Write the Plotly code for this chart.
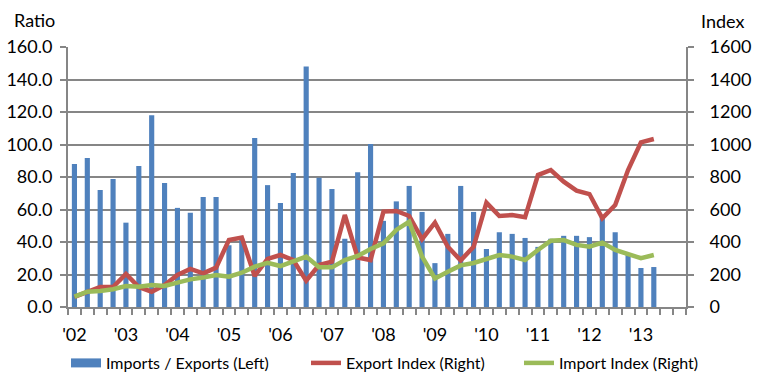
import plotly.graph_objects as go

# ---------------- data ----------------
categories = [
    "2002Q1", "2002Q2", "2002Q3", "2002Q4", "2003Q1", "2003Q2", "2003Q3", "2003Q4",
    "2004Q1", "2004Q2", "2004Q3", "2004Q4", "2005Q1", "2005Q2", "2005Q3", "2005Q4",
    "2006Q1", "2006Q2", "2006Q3", "2006Q4", "2007Q1", "2007Q2", "2007Q3", "2007Q4",
    "2008Q1", "2008Q2", "2008Q3", "2008Q4", "2009Q1", "2009Q2", "2009Q3", "2009Q4",
    "2010Q1", "2010Q2", "2010Q3", "2010Q4", "2011Q1", "2011Q2", "2011Q3", "2011Q4",
    "2012Q1", "2012Q2", "2012Q3", "2012Q4", "2013Q1", "2013Q2", "2013Q3", "2013Q4",
]
year_labels = ["'02", "'03", "'04", "'05", "'06", "'07", "'08", "'09", "'10", "'11", "'12", "'13"]

imports_exports_ratio = [
    88, 91.7, 72, 78.8, 51.9, 86.8, 118, 76.3, 61, 58, 67.7, 67.7,
    38, 42, 104, 75, 64, 82.5, 148, 79.6, 72.6, 42, 83, 100.3,
    53, 65, 74.5, 58.5, 27, 45, 74.5, 58.5, 35.7, 46, 45, 42.5,
    37, 42, 43.8, 43.8, 43, 56.6, 46, 33, 24, 24.6,
]
export_index = [
    62, 94, 123, 123, 203, 123, 94, 135, 197, 234, 207, 242,
    412, 427, 191, 296, 320, 289, 162, 258, 279, 566, 305, 289,
    587, 591, 560, 418, 519, 371, 287, 370, 642, 560, 566, 552,
    812, 843, 771, 716, 695, 546, 628, 843, 1013, 1034,
]
import_index = [
    64, 94, 98, 109, 129, 125, 135, 129, 150, 170, 181, 197,
    187, 211, 248, 272, 252, 283, 310, 244, 244, 289, 314, 357,
    392, 474, 525, 310, 176, 217, 256, 271, 293, 320, 310, 289,
    351, 408, 412, 382, 371, 396, 351, 326, 300, 320,
]

names = ["Imports / Exports (Left)", "Export Index (Right)", "Import Index (Right)"]
colors = ["#4F81BD", "#C0504D", "#9BBB59"]

# ---------------- figure ----------------
n_data = len(imports_exports_ratio)
x_data = categories[:n_data]
tick_text = []
yi = 0
for c in categories:
    if c.endswith("Q1"):
        tick_text.append(year_labels[yi])
        yi += 1
    else:
        tick_text.append("")

FONT = "Lato, 'Open Sans', sans-serif"
GRID = "#868686"
TICK_SIZE = 18

fig = go.Figure()
fig.add_trace(go.Bar(x=x_data, y=imports_exports_ratio, marker=dict(color=colors[0], line=dict(width=0)),
                     name=names[0], showlegend=False, yaxis="y"))
# legend-only swatch for the bar series
fig.add_trace(go.Scatter(x=[None], y=[None], mode="lines", line=dict(color=colors[0], width=9),
                         name=names[0], legend="legend"))
fig.add_trace(go.Scatter(x=x_data, y=export_index, mode="lines", line=dict(color=colors[1], width=4.5),
                         name=names[1], yaxis="y2", legend="legend2"))
fig.add_trace(go.Scatter(x=x_data, y=import_index, mode="lines", line=dict(color=colors[2], width=4.5),
                         name=names[2], yaxis="y2", legend="legend3"))

L, R, T, B = 68, 74, 47, 76
W, H = 760, 383
pw, ph = W - L - R, H - T - B

def px_x(px):
    return (px - L) / pw

def px_y(py):
    return (H - B - py) / ph

leg_common = dict(orientation="h", font=dict(family=FONT, size=16, color="#000000"),
                  bgcolor="rgba(0,0,0,0)", yanchor="middle", xanchor="left", y=px_y(363))

fig.update_layout(
    width=W, height=H,
    margin=dict(l=L, r=R, t=T, b=B, autoexpand=False),
    paper_bgcolor="white", plot_bgcolor="white",
    font=dict(family=FONT, size=TICK_SIZE, color="#000000"),
    bargap=0.6,
    legend=dict(x=px_x(66), **leg_common),
    legend2=dict(x=px_x(306), **leg_common),
    legend3=dict(x=px_x(519), **leg_common),
    xaxis=dict(
        type="category", categoryorder="array", categoryarray=categories,
        range=[-0.5, len(categories) - 0.5],
        tickmode="array", tickvals=categories, ticktext=tick_text, tickangle=0,
        tickson="boundaries", ticks="outside", ticklen=6, tickwidth=2, tickcolor=GRID,
        showline=True, linecolor=GRID, linewidth=2, showgrid=False,
        tickfont=dict(family=FONT, size=TICK_SIZE), ticklabelstandoff=10,
    ),
    yaxis=dict(
        range=[0, 160], dtick=20, tickformat=".1f",
        showgrid=True, gridcolor=GRID, gridwidth=2,
        showline=True, linecolor=GRID, linewidth=2,
        ticks="outside", ticklen=6, tickwidth=2, tickcolor=GRID,
        zeroline=False, tickfont=dict(family=FONT, size=TICK_SIZE), ticklabelstandoff=4,
    ),
    yaxis2=dict(
        overlaying="y", side="right", range=[0, 1600], dtick=200, tickformat="d",
        showgrid=False, showline=True, linecolor=GRID, linewidth=2,
        ticks="outside", ticklen=6, tickwidth=2, tickcolor=GRID,
        zeroline=False, tickfont=dict(family=FONT, size=TICK_SIZE), ticklabelstandoff=12,
    ),
    annotations=[
        dict(text="Ratio", xref="paper", yref="paper", x=px_x(34), y=px_y(20),
             xanchor="center", yanchor="middle", showarrow=False, font=dict(family=FONT, size=TICK_SIZE)),
        dict(text="Index", xref="paper", yref="paper", x=px_x(722), y=px_y(21),
             xanchor="center", yanchor="middle", showarrow=False, font=dict(family=FONT, size=TICK_SIZE)),
    ],
)

fig.write_html("out.html", config={"displayModeBar": False},
               post_script="document.body.style.margin='0';document.body.style.padding='0';")
